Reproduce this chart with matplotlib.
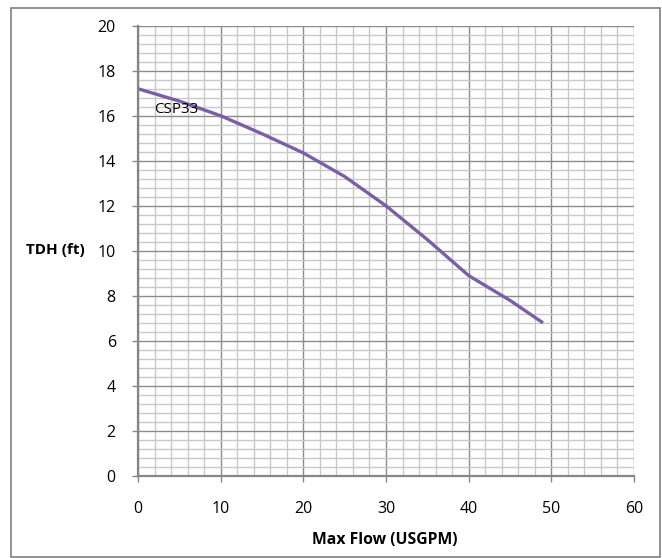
import matplotlib
matplotlib.use("Agg")
import matplotlib.pyplot as plt
from matplotlib.patches import Rectangle
from matplotlib.ticker import MultipleLocator

flow = [0, 5, 10, 15, 20, 25, 30, 35, 40, 45, 49]
tdh = [17.2, 16.65, 16.0, 15.2, 14.35, 13.3, 12.0, 10.5, 8.9, 7.8, 6.8]
series_name = "CSP33"
x_label = "Max Flow (USGPM)"
y_label = "TDH (ft)"

plt.rcParams['font.family'] = ['Open Sans', 'DejaVu Sans']

W, H = 662, 558
fig = plt.figure(figsize=(W / 100, H / 100), dpi=100)
fig.patch.set_facecolor('white')

# outer chart border
fig.add_artist(Rectangle((11 / W, 1 - 557 / H), (660 - 11) / W, (557 - 8) / H,
                         transform=fig.transFigure, fill=False,
                         edgecolor='#7f7f7f', linewidth=1.2))

ax = fig.add_axes([138 / W, 1 - 476 / H, (634 - 138) / W, (476 - 25.7) / H])
ax.set_xlim(0, 60)
ax.set_ylim(0, 20)
ax.xaxis.set_major_locator(MultipleLocator(10))
ax.xaxis.set_minor_locator(MultipleLocator(2))
ax.yaxis.set_major_locator(MultipleLocator(2))
ax.yaxis.set_minor_locator(MultipleLocator(0.4))

ax.grid(which='minor', color='#c8c8c8', linewidth=1.0)
ax.grid(which='major', color='#8c8c8c', linewidth=1.0)
ax.set_axisbelow(True)

for s in ['top', 'right']:
    ax.spines[s].set_visible(False)
for s in ['left', 'bottom']:
    ax.spines[s].set_color('#868686')
    ax.spines[s].set_linewidth(1.6)

ax.tick_params(which='major', length=4, width=1, color='#868686', labelsize=11.5)
ax.tick_params(axis='y', which='major', pad=12)
ax.tick_params(axis='x', which='major', pad=14)
ax.tick_params(which='minor', length=0)

ax.plot(flow, tdh, color='#7b5ea7', linewidth=2.4, solid_capstyle='butt',
        solid_joinstyle='round')
ax.text(1.9, 16.3, series_name, fontsize=11, va='center', ha='left')

fig.text(55 / W, 1 - 250 / H, y_label, fontsize=11, fontweight='bold',
         ha='center', va='center')
fig.text(385 / W, 1 - 540 / H, x_label, fontsize=11.3, fontweight='bold',
         ha='center', va='center')

fig.savefig('out.png', dpi=100, facecolor='white')
